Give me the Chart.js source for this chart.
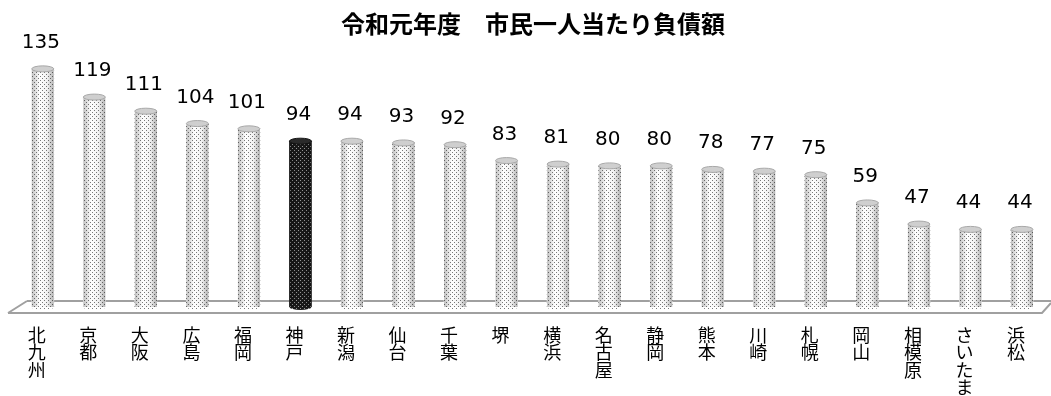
<!DOCTYPE html>
<html lang="ja">
<head>
  <meta charset="UTF-8" />
  <title>市民一人当たり負債額</title>
  <script src="https://cdn.jsdelivr.net/npm/chart.js"></script>
  <style>
    html, body { margin: 0; padding: 0; background: #fff; }
    #wrap { width: 1051px; height: 396px; position: relative; }
  </style>
</head>
<body>
  <div id="wrap"><canvas id="debtChart"></canvas></div>

  <script>
    // 令和元年度 市民一人当たり負債額（万円）
    const cities = ["北九州", "京都", "大阪", "広島", "福岡", "神戸", "新潟", "仙台", "千葉", "堺",
                    "横浜", "名古屋", "静岡", "熊本", "川崎", "札幌", "岡山", "相模原", "さいたま", "浜松"];
    const debt = [135, 119, 111, 104, 101, 94, 94, 93, 92, 83, 81, 80, 80, 78, 77, 75, 59, 47, 44, 44];
    const highlightCity = "神戸";

    // dotted fill tiles for the cylinders
    function dotPattern(bg, dot) {
      const c = document.createElement("canvas");
      c.width = 4; c.height = 4;
      const g = c.getContext("2d");
      g.fillStyle = bg;
      g.fillRect(0, 0, 4, 4);
      g.fillStyle = dot;
      g.fillRect(0, 0, 1, 1);
      g.fillRect(2, 2, 1, 1);
      return g.createPattern(c, "repeat");
    }

    const ctx = document.getElementById("debtChart").getContext("2d");
    const lightFill = dotPattern("#ffffff", "#7a7a7a");
    const darkFill = dotPattern("#1a1a1a", "#9a9a9a");

    // the grey platform the bars stand on
    const floorPlugin = {
      id: "floor",
      beforeDatasetsDraw(chart) {
        const c = chart.ctx;
        const y0 = chart.scales.y.getPixelForValue(0);
        c.save();
        c.strokeStyle = "#a0a0a0";
        c.lineWidth = 2;
        c.beginPath();
        c.moveTo(27, y0 - 6);
        c.lineTo(1051, y0 - 6);
        c.moveTo(8, y0 + 6);
        c.lineTo(1042, y0 + 6);
        c.lineTo(1051, y0 - 4);
        c.moveTo(8, y0 + 6);
        c.lineTo(27, y0 - 6);
        c.stroke();
        c.restore();
      }
    };

    // round shading, top caps and value labels
    const cylinderPlugin = {
      id: "cylinder",
      afterDatasetsDraw(chart) {
        const c = chart.ctx;
        const meta = chart.getDatasetMeta(0);
        meta.data.forEach((bar, i) => {
          const w = bar.width;
          const left = bar.x - w / 2;
          const dark = cities[i] === highlightCity;
          const shade = c.createLinearGradient(left, 0, left + w, 0);
          shade.addColorStop(0, "rgba(0,0,0,0.25)");
          shade.addColorStop(0.35, "rgba(0,0,0,0)");
          shade.addColorStop(0.7, "rgba(0,0,0,0.05)");
          shade.addColorStop(1, "rgba(0,0,0,0.3)");
          c.save();
          c.fillStyle = shade;
          c.fillRect(left, bar.y, w, bar.base - bar.y);
          // bottom curve
          c.beginPath();
          c.ellipse(bar.x, bar.base, w / 2, 3, 0, 0, Math.PI);
          c.fillStyle = dark ? darkFill : lightFill;
          c.fill();
          // top cap
          c.beginPath();
          c.ellipse(bar.x, bar.y, w / 2, 3, 0, 0, Math.PI * 2);
          c.fillStyle = dark ? "#2a2a2a" : "#cfcfcf";
          c.fill();
          c.strokeStyle = dark ? "#111" : "#a8a8a8";
          c.lineWidth = 1;
          c.stroke();
          // value label
          c.fillStyle = "#000";
          c.font = "20px 'DejaVu Sans'";
          c.textAlign = "center";
          c.textBaseline = "alphabetic";
          c.fillText(String(debt[i]), bar.x - 2, bar.y - 21);
          c.restore();
        });
      }
    };

    new Chart(ctx, {
      type: "bar",
      data: {
        labels: cities.map(name => name.split("")),
        datasets: [{
          data: debt,
          backgroundColor: cities.map(name => name === highlightCity ? darkFill : lightFill),
          borderWidth: 0,
          barThickness: 22
        }]
      },
      options: {
        responsive: true,
        maintainAspectRatio: false,
        animation: false,
        layout: { padding: { left: 17, right: 2, top: 0, bottom: 0 } },
        plugins: {
          legend: { display: false },
          tooltip: { enabled: false },
          title: {
            display: true,
            text: "令和元年度　市民一人当たり負債額",
            color: "#000",
            font: { family: "'Noto Sans CJK JP'", size: 24, weight: "bold", lineHeight: 1.1 },
            padding: { top: 11, bottom: 5 }
          }
        },
        scales: {
          x: {
            grid: { display: false, drawTicks: false },
            border: { display: false },
            afterFit(scale) { scale.height = 89; },
            ticks: {
              autoSkip: false,
              maxRotation: 0,
              minRotation: 0,
              padding: 20,
              labelOffset: -6,
              color: "#000",
              font: { family: "'Noto Sans CJK JP'", size: 18, lineHeight: 0.95 }
            }
          },
          y: {
            display: false,
            min: 0,
            max: 150
          }
        }
      },
      plugins: [floorPlugin, cylinderPlugin]
    });
  </script>
</body>
</html>
